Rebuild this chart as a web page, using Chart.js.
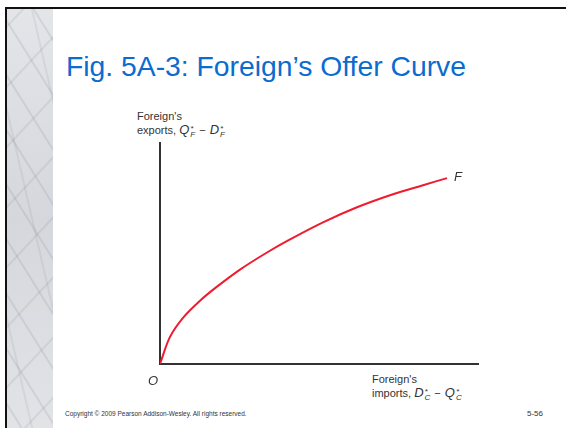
<!DOCTYPE html>
<html>
<head>
<meta charset="utf-8">
<script src="https://cdn.jsdelivr.net/npm/chart.js@4.4.1/dist/chart.umd.min.js"></script>
<style>
  html, body { margin: 0; padding: 0; background: #fff; }
  #slide { position: relative; width: 566px; height: 428px; overflow: hidden; background: #fff; font-family: "Liberation Sans", Arial, sans-serif; }
  #frameTop { position: absolute; left: 5px; top: 7px; width: 561px; height: 2px; background: #111; }
  #frameLeft { position: absolute; left: 5px; top: 7px; width: 2px; height: 421px; background: #111; }
  #marble {
    position: absolute; left: 7px; top: 9px; width: 46px; height: 419px;
    background:
      repeating-linear-gradient(58deg, rgba(120,120,130,0) 0 11px, rgba(120,120,130,0.16) 12px 13px, rgba(120,120,130,0) 14px 29px),
      repeating-linear-gradient(-47deg, rgba(110,110,120,0) 0 19px, rgba(110,110,120,0.13) 20px 21px, rgba(110,110,120,0) 22px 41px),
      repeating-linear-gradient(77deg, rgba(100,100,110,0) 0 23px, rgba(100,100,110,0.10) 24px 25px, rgba(100,100,110,0) 26px 47px),
      linear-gradient(180deg, #e4e5e9, #d6d7dc 50%, #e2e3e7);
  }
  #title { position: absolute; left: 66px; top: 50px; font-size: 28.3px; color: #0a6ccf; white-space: nowrap; }
  .lbl { position: absolute; font-size: 11px; line-height: 14px; color: #333; white-space: nowrap; }
  .m { font-style: italic; font-size: 13px; }
  .ss { display: inline-block; vertical-align: -3px; line-height: 6px; font-size: 8px; font-style: italic; text-align: left; margin-left: 1px; }
  .op { margin: 0 4px; }
  #copy { position: absolute; left: 65px; top: 410px; font-size: 6.5px; color: #333; white-space: nowrap; }
  #page { position: absolute; left: 527px; top: 409px; font-size: 8px; color: #333; }
  #c { position: absolute; left: 0; top: 0; }
</style>
</head>
<body>
<div id="slide">
  <div id="marble"></div>
  <div id="frameTop"></div>
  <div id="frameLeft"></div>
  <div id="title">Fig. 5A-3: Foreign’s Offer Curve</div>
  <div class="lbl" style="left:137px; top:109px;">Foreign's<br>exports, <span class="m">Q</span><span class="ss">*<br>F</span><span class="op">&#8722;</span><span class="m">D</span><span class="ss">*<br>F</span></div>
  <div class="lbl" style="left:372px; top:372px;">Foreign's<br>imports, <span class="m">D</span><span class="ss">*<br>C</span><span class="op">&#8722;</span><span class="m">Q</span><span class="ss">*<br>C</span></div>
  <div id="copy">Copyright © 2009 Pearson Addison-Wesley. All rights reserved.</div>
  <div id="page">5-56</div>
  <canvas id="c" width="566" height="428"></canvas>
</div>
<script>
// foreign's imports (x) and exports (y)
const imports = [0, 10, 23, 40, 57, 80, 107, 130, 163, 197, 230, 263, 287];
const exportsF = [0, 27, 46, 63, 77, 94, 111, 124, 141, 156, 168, 178, 185];
const xMax = 318;
const yMax = 220;
const curveName = 'F';
const originName = 'O';

const pts = imports.map((x, i) => ({ x: x, y: exportsF[i] }));

// draws O at the origin and F at the end of the curve
const labelPlugin = {
  id: 'curveLabels',
  afterDatasetsDraw(chart) {
    const ctx = chart.ctx;
    const xs = chart.scales.x, ys = chart.scales.y;
    ctx.save();
    ctx.fillStyle = '#333';
    ctx.font = 'italic 13px "Liberation Sans", Arial, sans-serif';
    ctx.textBaseline = 'middle';
    ctx.textAlign = 'center';
    ctx.fillText(originName, xs.getPixelForValue(0) - 7, ys.getPixelForValue(0) + 17);
    const last = pts[pts.length - 1];
    ctx.textAlign = 'left';
    ctx.fillText(curveName, xs.getPixelForValue(last.x) + 7, ys.getPixelForValue(last.y) - 1);
    ctx.restore();
  }
};

new Chart(document.getElementById('c'), {
  type: 'scatter',
  data: {
    datasets: [{
      data: pts,
      showLine: true,
      borderColor: '#ee1c2e',
      borderWidth: 2,
      pointRadius: 0,
      tension: 0.35
    }]
  },
  options: {
    responsive: false,
    animation: false,
    layout: { padding: { left: 160, right: 88, top: 143, bottom: 64 } },
    plugins: { legend: { display: false }, tooltip: { enabled: false } },
    scales: {
      x: {
        type: 'linear', min: 0, max: xMax,
        grid: { display: false, drawTicks: false },
        ticks: { display: false },
        border: { display: true, color: '#333', width: 2 }
      },
      y: {
        type: 'linear', min: 0, max: yMax,
        grid: { display: false, drawTicks: false },
        ticks: { display: false },
        border: { display: true, color: '#333', width: 2 }
      }
    }
  },
  plugins: [labelPlugin]
});
</script>
</body>
</html>
